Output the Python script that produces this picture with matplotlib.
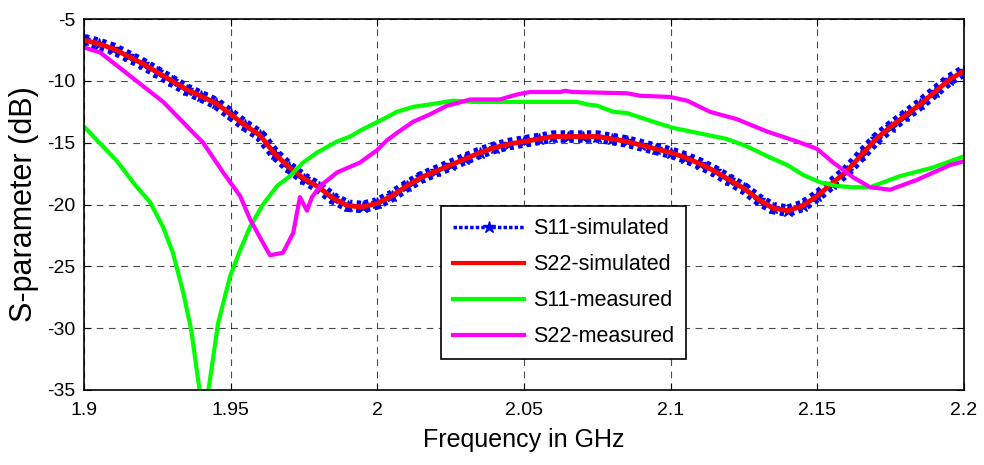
import numpy as np
import matplotlib
matplotlib.use("Agg")
import matplotlib.pyplot as plt
from matplotlib.lines import Line2D

plt.rcParams["font.family"] = ["Liberation Sans", "DejaVu Sans"]
plt.rcParams["axes.unicode_minus"] = False

# simulated (S11 and S22 overlap), 5 MHz steps
f_sim = np.round(np.arange(1.900, 2.2001, 0.005), 3)
s_sim = [-6.7, -7.0, -7.4, -8.0, -8.6, -9.3, -10.0, -10.7, -11.25, -11.8,
         -12.7, -13.6, -14.4, -15.9, -17.0, -17.9, -18.6, -19.5, -20.1, -20.2,
         -19.9, -19.3, -18.5, -17.8, -17.3, -16.8, -16.3, -15.8, -15.4, -15.1,
         -14.9, -14.7, -14.5, -14.5, -14.5, -14.5, -14.7, -14.9, -15.2, -15.5,
         -15.8, -16.2, -16.7, -17.3, -18.0, -18.7, -19.6, -20.3, -20.5, -20.1,
         -19.3, -18.3, -17.3, -16.0, -14.7, -13.7, -12.8, -11.9, -10.9, -9.9,
         -9.2]

# measured S11
f_m11 = [1.9, 1.9109, 1.9177, 1.9225, 1.9269, 1.9303, 1.9338, 1.9365, 1.9395, 1.941,
         1.9423, 1.9457, 1.9498, 1.9532, 1.9566, 1.961, 1.9658, 1.9702, 1.9747, 1.9794,
         1.9863, 1.9907, 1.9951, 2.0019, 2.0067, 2.0122, 2.018, 2.0258, 2.0326, 2.0418,
         2.0681, 2.0715, 2.0749, 2.0804, 2.0851, 2.094, 2.1008, 2.111, 2.1192, 2.126,
         2.1339, 2.1397, 2.1451, 2.1509, 2.1567, 2.1622, 2.168, 2.1782, 2.1895, 2.1953,
         2.2]
s_m11 = [-13.7, -16.4, -18.5, -19.8, -21.8, -23.9, -27.1, -30.1, -35.2, -35.5,
         -35.2, -29.6, -25.8, -23.7, -21.8, -20.0, -18.5, -17.7, -16.6, -15.8,
         -14.9, -14.5, -13.9, -13.1, -12.5, -12.1, -11.9, -11.6, -11.7, -11.7,
         -11.7, -11.9, -12.0, -12.5, -12.6, -13.3, -13.8, -14.3, -14.7, -15.3,
         -16.2, -16.8, -17.6, -18.2, -18.5, -18.6, -18.6, -17.7, -17.0, -16.5,
         -16.1]

# measured S22
f_m22 = [1.9, 1.9055, 1.9157, 1.927, 1.9385, 1.9406, 1.9474, 1.9532, 1.9566, 1.961,
         1.9634, 1.9678, 1.9713, 1.9736, 1.976, 1.9777, 1.9805, 1.9863, 1.9941, 1.9999,
         2.0033, 2.0067, 2.0122, 2.018, 2.0238, 2.0272, 2.0316, 2.0418, 2.0476, 2.052,
         2.0623, 2.064, 2.0667, 2.0851, 2.0896, 2.0998, 2.1056, 2.1134, 2.1226, 2.1329,
         2.1431, 2.1499, 2.1554, 2.1622, 2.168, 2.1748, 2.184, 2.1953, 2.2]
s_m22 = [-7.3, -7.7, -9.6, -11.7, -14.5, -15.0, -17.4, -19.3, -21.2, -23.1,
         -24.1, -23.9, -22.3, -19.4, -20.5, -19.4, -18.5, -17.4, -16.6, -15.6,
         -14.8, -14.2, -13.3, -12.7, -12.0, -11.8, -11.5, -11.5, -11.1, -10.9,
         -10.9, -10.8, -10.9, -11.0, -11.2, -11.3, -11.6, -12.5, -13.1, -14.1,
         -14.9, -15.5, -16.6, -17.8, -18.6, -18.8, -18.0, -16.8, -16.5]

xticks = [1.9, 1.95, 2.0, 2.05, 2.1, 2.15, 2.2]
xtick_labels = ["1.9", "1.95", "2", "2.05", "2.1", "2.15", "2.2"]
yticks = [-35, -30, -25, -20, -15, -10, -5]
labels = ["S11-simulated", "S22-simulated", "S11-measured", "S22-measured"]

fig = plt.figure(figsize=(9.84, 4.65), dpi=100)
ax = fig.add_axes([0.0854, 0.1613, 0.8943, 0.7977])

# blue band of star markers under the red simulated curve
ax.plot(f_sim, s_sim, color="blue", linestyle=(0, (0.35, 0.35)), linewidth=9)
ax.plot(f_sim, s_sim, color="blue", linestyle="none", marker="*",
        markersize=9, markeredgewidth=1.0)
ax.plot(f_sim, s_sim, color="red", linewidth=3.5)
ax.plot(f_m11, s_m11, color="#00ff00", linewidth=3)
ax.plot(f_m22, s_m22, color="#ff00ff", linewidth=3)

ax.set_xlim(1.9, 2.2)
ax.set_ylim(-35, -5)
ax.set_xticks(xticks)
ax.set_xticklabels(xtick_labels)
ax.set_yticks(yticks)
ax.tick_params(direction="in", top=True, right=True, labelsize=14, length=5)
ax.tick_params(axis="x", pad=9)
ax.tick_params(axis="y", pad=6)
ax.grid(True, color="black", linestyle=(0, (6, 5)), linewidth=0.8, alpha=0.7)
for s in ax.spines.values():
    s.set_linewidth(1.2)

ax.set_xlabel("Frequency in GHz", fontsize=18, labelpad=6)
ax.set_ylabel("S-parameter (dB)", fontsize=22, labelpad=6)

handles = [
    Line2D([], [], color="blue", linestyle=(0, (1, 0.6)), linewidth=2.5,
           marker="*", markersize=9),
    Line2D([], [], color="red", linewidth=3),
    Line2D([], [], color="#00ff00", linewidth=3),
    Line2D([], [], color="#ff00ff", linewidth=3),
]
leg = ax.legend(handles, labels, loc="upper left", bbox_to_anchor=(0.406, 0.495),
                fontsize=15.5, handlelength=3.3, handletextpad=0.4, numpoints=1,
                fancybox=False, framealpha=1, edgecolor="black", borderpad=0.55,
                labelspacing=0.7, borderaxespad=0)
leg.get_frame().set_linewidth(1.2)

fig.savefig("out.png", dpi=100)
